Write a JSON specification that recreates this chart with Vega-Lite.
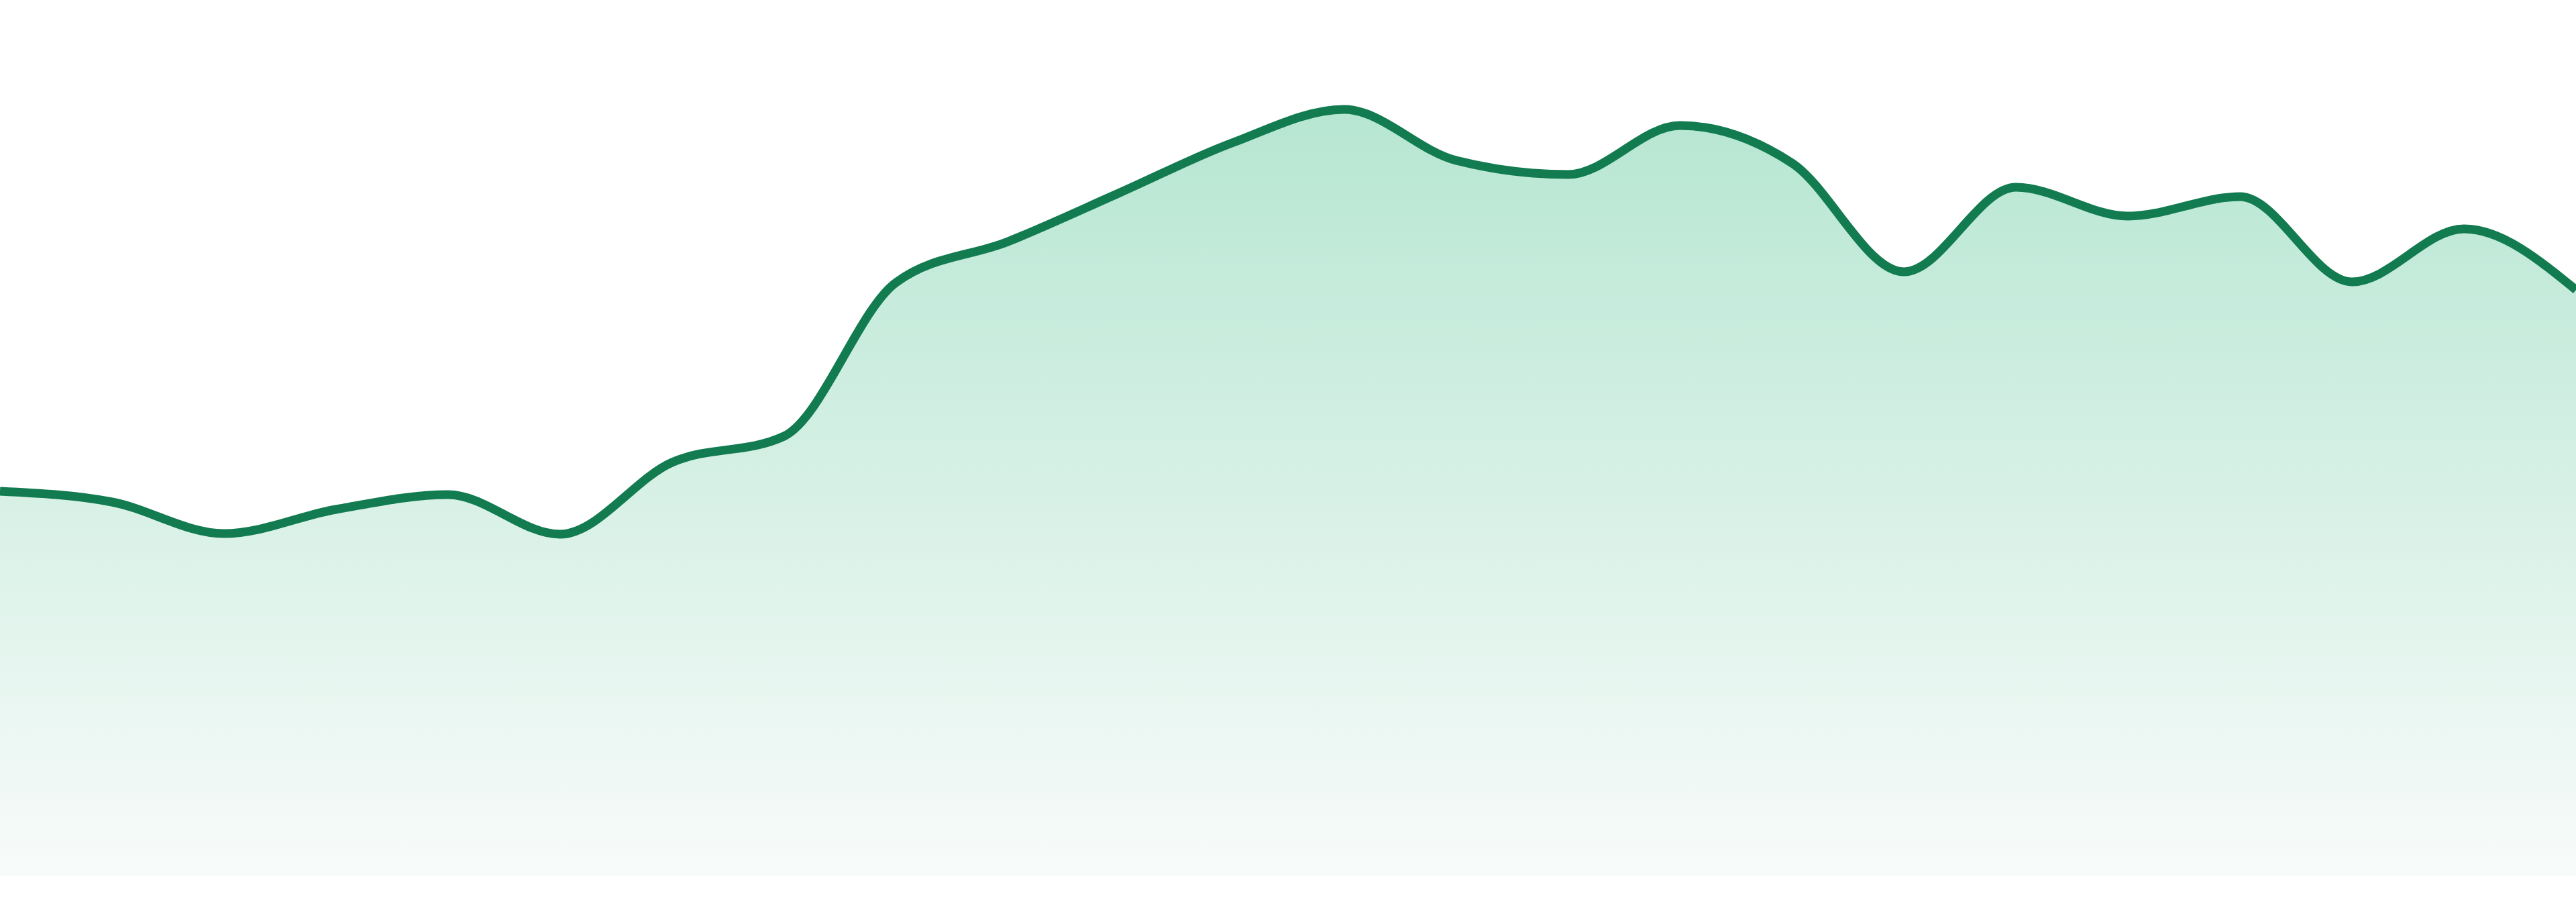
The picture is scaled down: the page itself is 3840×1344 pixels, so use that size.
{
  "$schema": "https://vega.github.io/schema/vega-lite/v6.json",
  "width": 3840,
  "height": 1344,
  "padding": 0,
  "autosize": {"type": "none"},
  "background": "#ffffff",
  "config": {"view": {"stroke": null}},
  "data": {
    "values": [
      {"step": 0, "value": 573},
      {"step": 1, "value": 557},
      {"step": 2, "value": 510},
      {"step": 3, "value": 546},
      {"step": 4, "value": 568},
      {"step": 5, "value": 509},
      {"step": 6, "value": 616},
      {"step": 7, "value": 655},
      {"step": 8, "value": 884},
      {"step": 9, "value": 945},
      {"step": 10, "value": 1018},
      {"step": 11, "value": 1092},
      {"step": 12, "value": 1142},
      {"step": 13, "value": 1066},
      {"step": 14, "value": 1045},
      {"step": 15, "value": 1118},
      {"step": 16, "value": 1062},
      {"step": 17, "value": 900},
      {"step": 18, "value": 1026},
      {"step": 19, "value": 983},
      {"step": 20, "value": 1012},
      {"step": 21, "value": 885},
      {"step": 22, "value": 964},
      {"step": 23, "value": 873}
    ]
  },
  "encoding": {
    "x": {
      "field": "step",
      "type": "quantitative",
      "scale": {"domain": [0, 23], "nice": false, "zero": false},
      "axis": null
    },
    "y": {
      "field": "value",
      "type": "quantitative",
      "scale": {"domain": [-39, 1305], "nice": false, "zero": false},
      "axis": null
    }
  },
  "layer": [
    {
      "mark": {
        "type": "area",
        "interpolate": "monotone",
        "color": {
          "gradient": "linear",
          "x1": 0,
          "y1": 0,
          "x2": 0,
          "y2": 1,
          "stops": [
            {"offset": 0, "color": "#b6e6d2"},
            {"offset": 1, "color": "#f8fbfa"}
          ]
        }
      },
      "encoding": {"y2": {"datum": 0}}
    },
    {
      "mark": {
        "type": "line",
        "interpolate": "monotone",
        "color": "#127b50",
        "strokeWidth": 13
      }
    }
  ]
}
